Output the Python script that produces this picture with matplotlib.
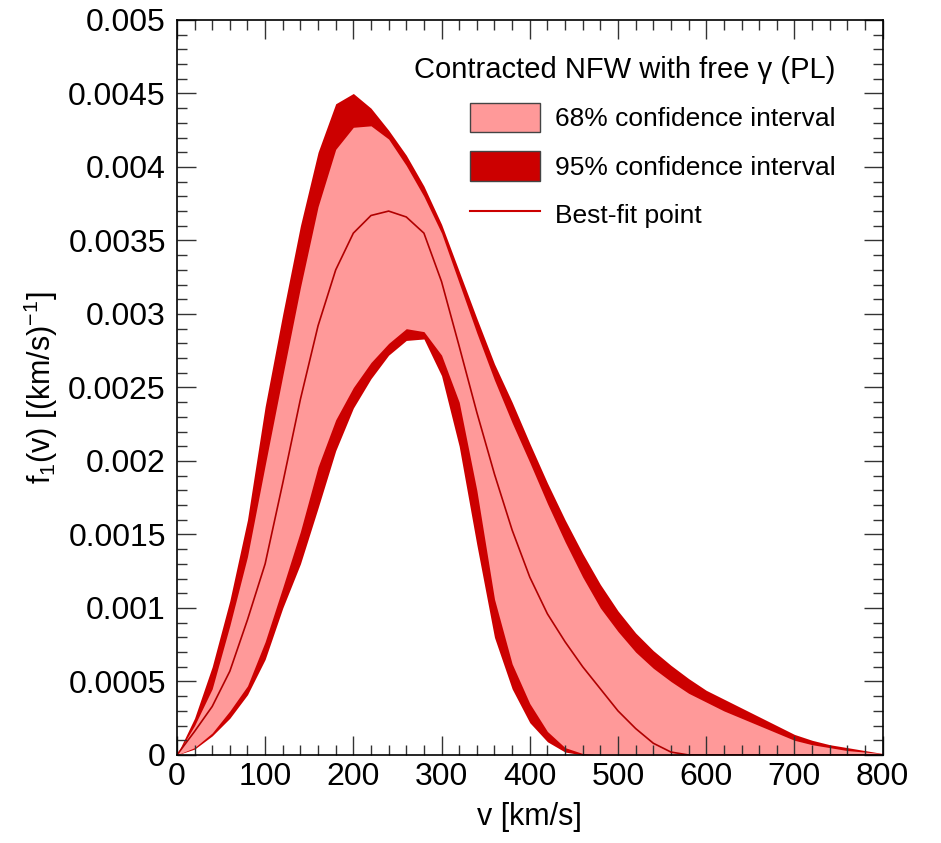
import matplotlib
matplotlib.use("Agg")
import matplotlib.pyplot as plt
from matplotlib.ticker import MultipleLocator, FuncFormatter
from matplotlib.patches import Patch
from matplotlib.lines import Line2D

plt.rcParams['font.family'] = ['Liberation Sans', 'DejaVu Sans']

# velocity grid [km/s]
v = list(range(0, 801, 20))

# 95% band, upper / lower edges
up95 = [0, 0.00025, 0.00060, 0.00105, 0.00160, 0.00237, 0.00300, 0.00360, 0.00410, 0.00443,
        0.00450, 0.00440, 0.00425, 0.00408, 0.00387, 0.00361, 0.00329, 0.00297, 0.00266,
        0.00240, 0.00212, 0.00185, 0.00160, 0.00137, 0.00116, 0.00098, 0.00083, 0.00071,
        0.00061, 0.00052, 0.00044, 0.00038, 0.00032, 0.00026, 0.00020, 0.00014, 0.00010,
        0.00007, 0.00005, 0.00003, 0.00001]
lo95 = [0, 0.00004, 0.00013, 0.00025, 0.00041, 0.00065, 0.00100, 0.00130, 0.00168, 0.00207,
        0.00236, 0.00256, 0.00272, 0.00282, 0.00283, 0.00258, 0.00210, 0.00143, 0.00080,
        0.00045, 0.00022, 0.00009, 0.00002, 0, 0, 0, 0, 0, 0, 0, 0, 0, 0, 0, 0, 0, 0,
        0, 0, 0, 0]

# 68% band, upper / lower edges
up68 = [0, 0.00020, 0.00045, 0.00088, 0.00135, 0.00197, 0.00258, 0.00318, 0.00373, 0.00412,
        0.00427, 0.00428, 0.00419, 0.00401, 0.00380, 0.00355, 0.00321, 0.00287, 0.00255,
        0.00226, 0.00199, 0.00171, 0.00145, 0.00121, 0.00100, 0.00084, 0.00070, 0.00059,
        0.00050, 0.00042, 0.00036, 0.00030, 0.00025, 0.00020, 0.00015, 0.00010, 0.00007,
        0.00005, 0.00003, 0.00002, 0.00001]
lo68 = [0, 0.00005, 0.00015, 0.00030, 0.00047, 0.00077, 0.00114, 0.00152, 0.00196, 0.00228,
        0.00250, 0.00267, 0.00280, 0.00290, 0.00288, 0.00272, 0.00240, 0.00180, 0.00106,
        0.00062, 0.00035, 0.00016, 0.00005, 0.00001, 0, 0, 0, 0, 0, 0, 0, 0, 0, 0, 0, 0,
        0, 0, 0, 0, 0]

# best-fit point
best = [0, 0.00016, 0.00033, 0.00057, 0.00092, 0.00130, 0.00185, 0.00242, 0.00292, 0.00330,
        0.00355, 0.00367, 0.00370, 0.00366, 0.00355, 0.00322, 0.00278, 0.00233, 0.00191,
        0.00153, 0.00121, 0.00096, 0.00077, 0.00060, 0.00045, 0.00030, 0.00018, 0.00008,
        0.00002, 0, 0, 0, 0, 0, 0, 0, 0, 0, 0, 0, 0]

dark = '#cc0000'
pink = '#ff9999'

fig = plt.figure(figsize=(9.41, 8.43), dpi=100)
ax = fig.add_axes([0.188, 0.1044, 0.750, 0.8719])

ax.fill_between(v, lo95, up95, color=dark, lw=0)
ax.fill_between(v, lo68, up68, color=pink, lw=0)
ax.plot(v, best, color='#b00000', lw=1.2)

ax.set_xlim(0, 800)
ax.set_ylim(0, 0.005)
ax.xaxis.set_major_locator(MultipleLocator(100))
ax.xaxis.set_minor_locator(MultipleLocator(20))
ax.yaxis.set_major_locator(MultipleLocator(0.0005))
ax.yaxis.set_minor_locator(MultipleLocator(0.0001))
ax.yaxis.set_major_formatter(FuncFormatter(lambda y, p: '%g' % y))
ax.tick_params(which='both', direction='in', top=True, right=True, width=1.0, color='#333333')
ax.tick_params(which='major', length=14, labelsize=23)
ax.tick_params(axis='y', which='major', pad=8)
ax.tick_params(axis='x', which='major', pad=5)
ax.tick_params(which='minor', length=7)
for s in ax.spines.values():
    s.set_linewidth(1.2)

ax.set_xlabel('v [km/s]', fontsize=22, labelpad=7)
ax.set_ylabel(r'f$_{\mathregular{1}}$(v) [(km/s)$^{\mathregular{-1}}$]', fontsize=22, labelpad=6)

handles = [Patch(facecolor=pink, edgecolor='#444444', lw=1),
           Patch(facecolor=dark, edgecolor='#444444', lw=1),
           Line2D([], [], color=dark, lw=1.5)]
labels = ['68% confidence interval', '95% confidence interval', 'Best-fit point']
leg = ax.legend(handles, labels, loc='upper right', bbox_to_anchor=(0.933, 0.951),
                frameon=False, fontsize=19, title='Contracted NFW with free γ (PL)',
                title_fontsize=21, handlelength=2.65, handleheight=1.33, labelspacing=0.72,
                handletextpad=0.57, borderpad=0, borderaxespad=0, alignment='right')

fig.savefig('out.png', dpi=100)
